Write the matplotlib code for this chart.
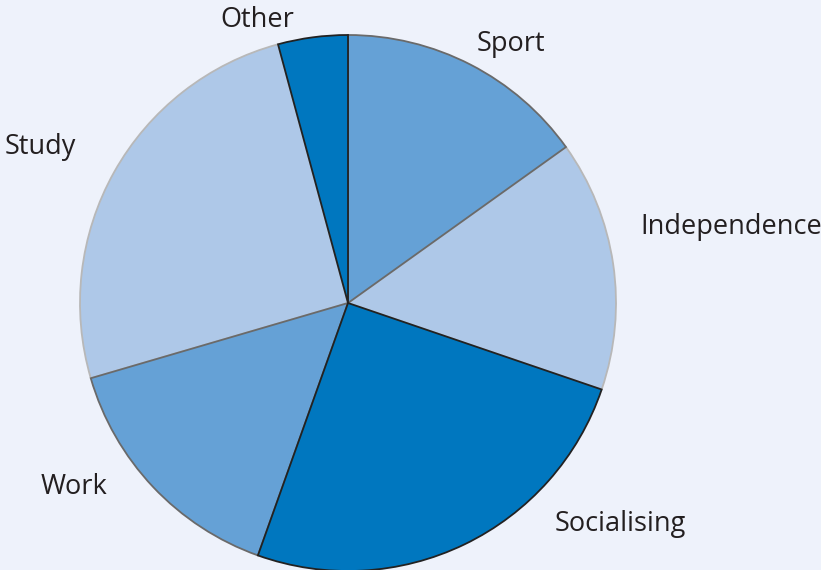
import matplotlib
matplotlib.use("Agg")
import matplotlib.pyplot as plt

# ---- data (clockwise from 12 o'clock) ----
labels = ["Sport", "Independence", "Socialising", "Work", "Study", "Other"]
shares = [15.1, 15.1, 25.2, 15.0, 25.3, 4.2]
colors = ["#65a1d6", "#aec8e8", "#0077bf", "#65a1d6", "#aec8e8", "#0077bf"]
edges = ["#6a6a6a", "#b8b8b8", "#222222", "#6a6a6a", "#b8b8b8", "#222222"]
# label anchor positions (in pie radius units)
label_pos = [(0.608, 0.966), (1.43, 0.284), (1.015, -0.824),
             (-1.022, -0.686), (-1.149, 0.583), (-0.34, 1.056)]

bg = "#eef2fb"
fig = plt.figure(figsize=(8.21, 5.70), dpi=100, facecolor=bg)
ax = fig.add_axes([0, 0, 1, 1])
ax.set_facecolor(bg)

wedges, _ = ax.pie(shares, colors=colors, startangle=90, counterclock=False,
                   radius=1.0, wedgeprops=dict(linewidth=1.3))
# draw the lighter wedges first so the dark outlines stay on top
order = [1, 4, 0, 3, 2, 5]
for z, i in enumerate(order):
    wedges[i].set_edgecolor(edges[i])
    wedges[i].set_zorder(2 + z)

for lab, (x, y) in zip(labels, label_pos):
    ax.text(x, y, lab, ha="center", va="center", fontsize=19.5,
            family="Open Sans", color="#231f20")

ax.set_xlim(-348 / 268, (821 - 348) / 268)
ax.set_ylim(-(570 - 303) / 268, 303 / 268)
ax.set_aspect("equal")
ax.axis("off")

fig.savefig("out.png", dpi=100, facecolor=bg)
